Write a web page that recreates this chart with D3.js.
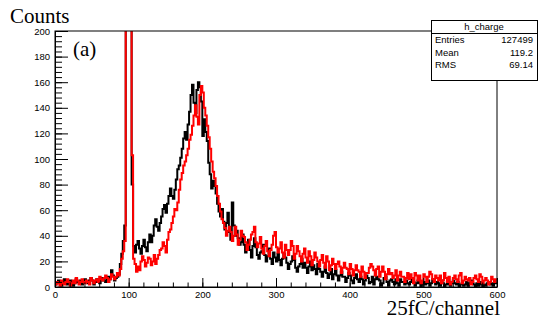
<!DOCTYPE html>
<html><head><meta charset="utf-8">
<script src="https://cdn.jsdelivr.net/npm/d3@7"></script>
<style>body{margin:0;background:#fff}svg{display:block}</style>
</head><body><svg id="c" width="553" height="319"></svg>
<script>
const binWidth = 2, xMin = 0, xMax = 600, yMax = 200;
const blackCounts = [
 2,4, 5,3, 1,3, 6,4, 2,4, 5,3, 1,3, 6,4, 3,5, 2,4, 6,4, 3,5, 7,5, 2,4, 6,4, 3,5, 7,5, 4,6, 8,6, 13,9, 5,7, 8,10,
 18,26, 36,48, 1400,1600, 1700,1500, 80,32,
 27,33, 36,30, 26,32, 37,31, 28,35, 41,35, 40,48, 53,47, 44,50, 55,61, 64,58, 65,71, 77,71, 69,76, 84,92, 95,101,
 108,116, 121,115, 127,137, 150,158, 144,136, 154,160, 156,145, 118,131, 121,114, 97,88, 77,83, 79,73, 65,59, 55,61,
 51,45, 50,58, 43,37,
 66,48, 40,44, 38,33, 35,41, 33,27, 31,37, 29,23, 32,38, 31,25, 22,27, 28,33, 25,20, 24,30, 22,18, 27,23, 20,26,
 21,17, 22,26, 23,19, 14,18, 20,24, 21,15, 12,16, 18,22, 15,19, 15,11, 16,20, 13,17, 14,10, 18,14, 12,8, 12,16,
 11,7, 10,14, 6,10, 13,9, 5,9, 12,8, 8,4, 7,11, 9,5, 3,7, 10,6, 4,8, 6,2, 5,9, 7,3, 4,8, 2,6, 8,6, 5,1, 3,7,
 8,4, 1,5, 6,4, 2,6, 3,1, 6,4, 4,2, 5,3,
 2,4, 6,4, 1,3, 5,3, 0,2, 4,2, 3,5, 1,3, 6,4, 2,4, 3,1, 5,3, 0,2, 4,2, 1,3, 5,3, 2,4, 0,2, 3,1, 2,4, 1,3, 5,3,
 2,0, 3,1, 4,2, 0,2, 1,3, 4,2, 3,1, 5,3];
const redCounts = [
 2,4, 3,1, 5,3, 2,4, 6,4, 1,3, 5,3, 7,5, 2,4, 6,4, 3,5, 4,2, 7,5, 3,5, 6,4, 8,6, 5,7, 9,7, 4,6, 10,8, 6,8, 11,9,
 14,22, 28,36, 1400,1600, 1700,1500, 103,22,
 18,12, 16,13, 20,24, 21,16, 19,23, 22,17, 20,25, 18,22, 25,29, 30,35, 32,27, 37,43, 45,50, 55,61, 60,66, 76,84,
 89,95, 98,103, 108,115, 119,126, 134,142, 133,127, 150,157, 152,140, 134,126, 117,108, 98,90, 85,79, 71,65, 59,53,
 50,46, 40,44, 47,43,
 36,40, 47,41, 33,37, 44,40, 39,35, 29,33, 37,41, 43,47, 35,31, 34,39, 30,26, 32,36, 28,24, 29,33, 40,43, 31,27,
 30,35, 27,23, 33,29, 25,29, 36,32, 22,26, 32,28, 24,20, 26,30, 23,19, 28,24, 17,21, 27,23, 20,16, 21,25, 19,15,
 24,20, 13,17, 22,18, 14,18, 20,16, 11,15, 19,15, 14,10, 18,14, 9,13, 17,13, 12,8, 16,12, 7,11, 11,15, 18,16,
 13,9, 14,16, 8,12, 16,12, 6,10, 14,10, 11,7, 9,13, 5,9, 12,8, 8,4, 7,11,
 6,10, 7,3, 11,9, 5,9, 3,5, 10,8, 4,8, 12,10, 6,4, 9,7, 5,9, 3,5, 11,7, 4,8, 2,4, 7,9, 6,4, 9,11, 3,5, 8,6,
 5,7, 2,4, 7,9, 6,4, 10,8, 3,5, 7,5, 2,4, 8,6, 4,6];
const xTicks = [0,100,200,300,400,500,600];
const yTicks = [0,20,40,60,80,100,120,140,160,180,200];
const statsTitle = "h_charge";
const statsRows = [["Entries","127499"],["Mean","119.2"],["RMS","69.14"]];
const yTitle = "Counts", xTitle = "25fC/channel", panelLabel = "(a)";

const svg = d3.select("#c");
const L = 55, R = 497, T = 31, B = 287;
const x = d3.scaleLinear().domain([xMin, xMax]).range([L, R]);
const y = d3.scaleLinear().domain([0, yMax]).range([B, T]);

svg.append("defs").append("clipPath").attr("id","clip")
  .append("rect").attr("x",L).attr("y",T).attr("width",R-L).attr("height",B-T);

function pts(counts){
  const p = counts.map((c,i)=>[xMin+i*binWidth, c]);
  p.push([xMin+counts.length*binWidth, counts[counts.length-1]]);
  return p;
}
const line = d3.line().x(d=>x(d[0])).y(d=>y(d[1])).curve(d3.curveStepAfter);
const g = svg.append("g").attr("clip-path","url(#clip)");
g.append("path").attr("d", line(pts(blackCounts))).attr("fill","none").attr("stroke","#000").attr("stroke-width",2);
g.append("path").attr("d", line(pts(redCounts))).attr("fill","none").attr("stroke","#ff0000").attr("stroke-width",2);

// frame
svg.append("rect").attr("x",L).attr("y",T).attr("width",R-L).attr("height",B-T)
  .attr("fill","none").attr("stroke","#000").attr("stroke-width",1);

const font = "'Liberation Sans', Arial, sans-serif";
const xMinor = d3.range(xMin, xMax+1, 20);
const yMinor = d3.range(0, yMax+1, 4);
svg.append("g").attr("transform",`translate(0,${B})`)
  .call(d3.axisBottom(x).tickValues(xMinor).tickSize(-4.5).tickSizeOuter(0).tickFormat(""))
  .call(s=>s.select(".domain").remove());
svg.append("g").attr("transform",`translate(${L},0)`)
  .call(d3.axisLeft(y).tickValues(yMinor).tickSize(-7).tickSizeOuter(0).tickFormat(""))
  .call(s=>s.select(".domain").remove());
const ax = svg.append("g").attr("transform",`translate(0,${B})`)
  .call(d3.axisBottom(x).tickValues(xTicks).tickSize(-9).tickSizeOuter(0).tickPadding(4).tickFormat(d3.format("d")));
const ay = svg.append("g").attr("transform",`translate(${L},0)`)
  .call(d3.axisLeft(y).tickValues(yTicks).tickSize(-13).tickSizeOuter(0).tickPadding(5).tickFormat(d3.format("d")));
[ax, ay].forEach(a=>{
  a.selectAll(".domain").attr("stroke","#000");
  a.selectAll("text").attr("font-family",font).attr("font-size",9.5).attr("fill","#000");
});
svg.selectAll(".tick line").attr("stroke","#000");

const serif = "'Liberation Serif', 'Times New Roman', serif";
svg.append("text").attr("x",10).attr("y",23).attr("font-family",serif).attr("font-size",21).text(yTitle);
svg.append("text").attr("x",500).attr("y",315).attr("text-anchor","end").attr("font-family",serif).attr("font-size",21).text(xTitle);
svg.append("text").attr("x",73).attr("y",56).attr("font-family",serif).attr("font-size",21).text(panelLabel);

const bx = 431, by = 20, bw = 106, bh = 60, hh = 13;
svg.append("rect").attr("x",bx+0.5).attr("y",by+0.5).attr("width",bw).attr("height",bh).attr("fill","#fff").attr("stroke","#000");
svg.append("line").attr("x1",bx).attr("x2",bx+bw).attr("y1",by+hh+0.5).attr("y2",by+hh+0.5).attr("stroke","#000");
svg.append("text").attr("x",bx+bw/2).attr("y",by+10).attr("text-anchor","middle").attr("font-family",font).attr("font-size",9.5).text(statsTitle);
statsRows.forEach((r,i)=>{
  const yy = by + 23 + i*12.5;
  svg.append("text").attr("x",bx+4).attr("y",yy).attr("font-family",font).attr("font-size",9.5).text(r[0]);
  svg.append("text").attr("x",bx+bw-4).attr("y",yy).attr("text-anchor","end").attr("font-family",font).attr("font-size",9.5).text(r[1]);
});
</script></body></html>
